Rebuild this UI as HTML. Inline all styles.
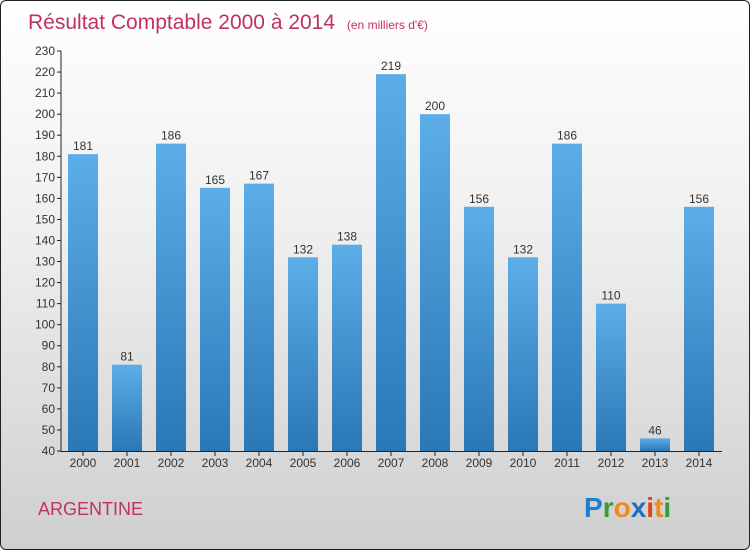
<!DOCTYPE html>
<html><head><meta charset="utf-8"><style>
body{margin:0;width:750px;height:550px;overflow:hidden;font-family:"Liberation Sans",sans-serif}
#frame{position:absolute;left:0;top:0;width:748px;height:548px;border:1px solid #222;border-radius:6px;background:linear-gradient(#fff 0%,#f0f0f0 40%,#cfcfcf 100%)}
</style></head><body>
<div id="frame">
<svg width="750" height="550">
<defs><linearGradient id="bg" x1="0" y1="0" x2="0" y2="1"><stop offset="0" stop-color="#5cade8"/><stop offset="1" stop-color="#2a78b6"/></linearGradient></defs>
<text x="27" y="28" font-size="21" fill="#c0325e">Résultat Comptable 2000 à 2014 <tspan font-size="12" dx="6">(en milliers d'€)</tspan></text>
<g id="axes"></g><g id="bars"></g>
<text x="37" y="514" font-size="18" fill="#c0325e">ARGENTINE</text>
<g font-size="28" font-weight="bold" font-family="Liberation Sans, sans-serif">
<text x="583" y="516"><tspan fill="#1e7fd0">P</tspan><tspan fill="#3a9a3a">r</tspan><tspan fill="#f08a1c">o</tspan><tspan fill="#1e6fc0">x</tspan><tspan fill="#e04020">i</tspan><tspan fill="#f08a1c">t</tspan><tspan fill="#3a9a3a">i</tspan></text></g>
</svg></div>
<script>
const years=["2000","2001","2002","2003","2004","2005","2006","2007","2008","2009","2010","2011","2012","2013","2014"];
const values=[181,81,186,165,167,132,138,219,200,156,132,186,110,46,156];
const yTicks=[40,50,60,70,80,90,100,110,120,130,140,150,160,170,180,190,200,210,220,230];
const NS="http://www.w3.org/2000/svg";
const y0=450,y1=50,vmin=40,vmax=230;
function yS(v){return y0-(v-vmin)/(vmax-vmin)*(y0-y1);}
function xS(i){return 82+i*44;}
const ax=document.getElementById('axes'),bs=document.getElementById('bars');
function mk(tag,at,p){const e=document.createElementNS(NS,tag);for(const k in at)e.setAttribute(k,at[k]);p.appendChild(e);return e;}
let l=mk('line',{x1:60,y1:50,x2:60,y2:451,stroke:'#222'},ax);


l=mk('line',{x1:60,y1:450.5,x2:721,y2:450.5,stroke:'#222'},ax);


yTicks.forEach(v=>{const y=yS(v);
mk('line',{x1:56,y1:y,x2:60,y2:y,stroke:'#222'},ax);
const t=mk('text',{x:54,y:y+4,'font-size':12,fill:'#333','text-anchor':'end'},ax);t.textContent=v;

});
years.forEach((yr,i)=>{const x=xS(i),v=values[i];
const r=mk('rect',{x:x-15,y:yS(v),width:30,height:y0-yS(v),fill:'url(#bg)'},bs);


const t=mk('text',{x:x,y:yS(v)-4,'font-size':12,fill:'#333','text-anchor':'middle'},bs);t.textContent=v;


mk('line',{x1:x,y1:450,x2:x,y2:455,stroke:'#222'},ax);
const xt=mk('text',{x:x,y:466,'font-size':12,fill:'#333','text-anchor':'middle'},ax);xt.textContent=yr;

});
</script>
</body></html>
